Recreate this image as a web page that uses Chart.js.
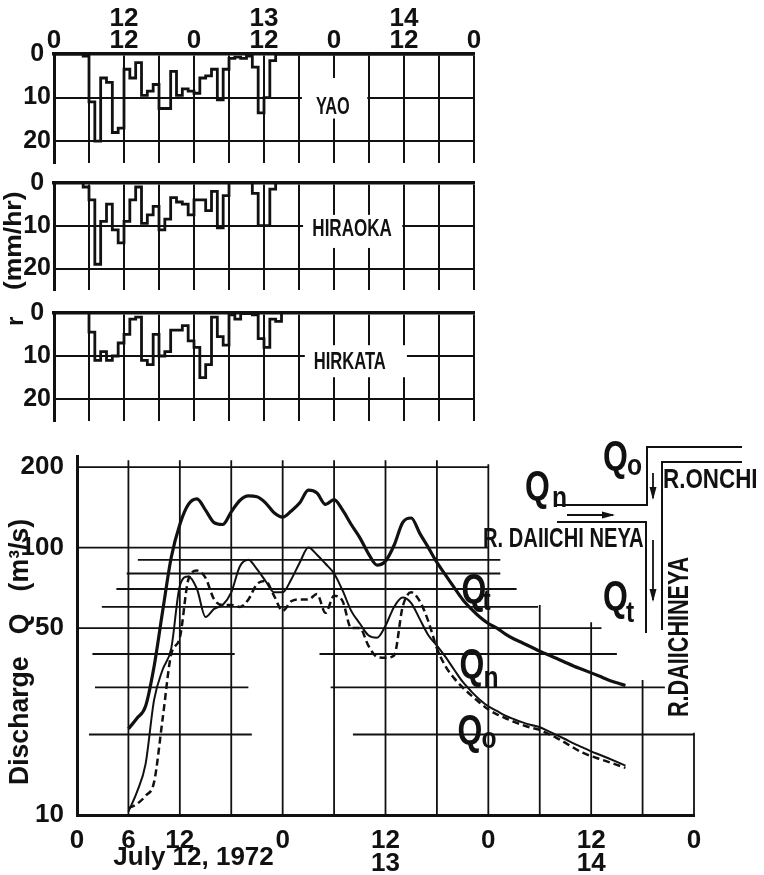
<!DOCTYPE html>
<html>
<head>
<meta charset="utf-8">
<script src="https://cdn.jsdelivr.net/npm/chart.js@4.4.1/dist/chart.umd.min.js"></script>
<style>
  html, body { margin: 0; padding: 0; background: #fff; }
  #page { position: relative; width: 764px; height: 875px; overflow: hidden; }
  #page canvas { position: absolute; left: 0; top: 0; }
</style>
</head>
<body>
<div id="page">
  <canvas id="yao" width="764" height="875"></canvas>
  <canvas id="hiraoka" width="764" height="875"></canvas>
  <canvas id="hirakata" width="764" height="875"></canvas>
  <canvas id="discharge" width="764" height="875"></canvas>
</div>
<script>
const FONT = "'Liberation Sans', Arial, sans-serif";
const INK = '#111';

// hourly rainfall (mm/hr), hour 0 = July 12 0:00
const rainHours = [0,1,2,3,4,5,6,7,8,9,10,11,12,13,14,15,16,17,18,19,20,21,22,23,24,25,26,27,28,29,30,31,32,33,34,35,36,37,38,39];
const yaoRain = [0,0,0,0,0,0.5,11,20,5.5,6.5,18,17,3.5,5.5,2,9.5,8.5,7,12.5,12.5,4,9.5,8,8.5,9,5.5,5,3.5,10.5,3.5,1,0.7,1,0.5,3,13.5,10,1.5,0,0];
const hiraokaRain = [0,0,0,0,0,1,4,19,9,5,11,14,9,4,1,9.5,7.5,5.5,11,8.5,3.5,4.5,5,7.5,4,4,6.5,2,10.5,3,0,0,0,0,2.5,10,10,1.5,0,0];
const hirakataRain = [0,0,0,0,0,0,4.5,11,9,11,10,7,5,1.5,1,11,12,5,10,9,4,4,3,6.5,8,15,12,1,5.5,7.5,0.5,1.5,0.2,0.2,0.5,6,8,1.5,2,0];

// discharge (m3/s)
const qHours = [6,7,8,9,10,11,12,13,14,15,16,17,18,19,20,21,22,23,24,25,26,27,28,29,30,31,32,33,34,35,36,37,38,39,40,41,42,43,44,45,46,47,48,49,50,51,52,53,54,55,56,57,58,59,60,61,62,63,64];
const qTotal = [21,23,25.5,36,58,92,122,145,152,138,124,122,136,150,156,155,147,135,130,137,147,164,160,145,151,138,122,109,95,86,89,102,124,129,113,100,88,79,71,64,59,55,52,50,47.5,45.5,44,42.5,41,39.7,38.5,37.2,36,35,34,33,32,31.2,30.5];
const qDaiichi = [10.3,12.2,15.5,27,35,42,72,78,70,55,59,61,68,85,90,83,75,68,68,76,88,100,94,87,80,69,58,52,47,46,51,60,65,62,54,47,43,39,35,31.5,29,27,25.5,24.5,23.5,22.8,22.2,21.7,21.3,20.6,19.9,19.2,18.5,17.9,17.3,16.8,16.3,15.8,15.3];
const qOnchi = [10.6,11,11.8,13.3,23,40,46,76,82,77,64,61,61,60,64,73,75,66,58,63,64,64,67,57,66,63,50,50,43,39,38.7,39.5,60,68,63,53,42,36,32.5,30,28,26.3,24.8,23.8,23,22.3,21.7,21.2,20.8,20.1,19.4,18.6,17.8,17.1,16.6,16.2,15.8,15.4,15];

// ticks
const gridHours = [0,6,12,18,24,30,36,42,48,54,60,66,72];
const hourLabels = {0:'0', 12:'12', 24:'0', 36:'12', 48:'0', 60:'12', 72:'0'};
const dayLabels = {12:'12', 36:'13', 60:'14'};
const qHourLabels = {0:'0', 6:'6', 12:'12', 24:'0', 36:'12', 48:'0', 60:'12', 72:'0'};
const qDayLabels = {36:'13', 60:'14'};
const rainTicks = [0, 10, 20];
const qTicks = [10, 50, 100, 200];

// broken grid of the discharge panel: [value, fromHour, toHour] and [hour, topValue]
const qGridRows = [[200,0,48],[100,0,48],[90,7.1,49.4],[80,5.8,49.4],[70,4.6,51.3],[60,2.9,53.8],[50,0,61.2],
  [40,1.8,18.4],[40,28.3,63],[30,2.1,20],[30,29.6,68.6],[20,1.4,20.4],[20,32.2,72]];
const qGridCols = [[6,212],[12,212],[18,212],[24,212],[30,212],[36,212],[42,212],[48,205],[54,61],[60,52.6],[66,32],[72,20.3]];

function text(ctx, str, x, y, size, o = {}) {
  ctx.save();
  ctx.font = 'bold ' + size + 'px ' + FONT;
  ctx.fillStyle = INK;
  ctx.textAlign = o.align || 'left';
  ctx.textBaseline = o.baseline || 'alphabetic';
  ctx.translate(x, y);
  if (o.rotate) ctx.rotate(o.rotate);
  ctx.scale(o.sx || 1, 1);
  ctx.fillText(str, 0, 0);
  ctx.restore();
}

function qLabel(ctx, x, y, sub, dx, dy) {
  text(ctx, 'Q', x, y, 42, {sx: 0.76});
  text(ctx, sub, x + dx, y + dy, 29, {sx: 0.85});
}

function arrow(ctx, x1, y1, x2, y2) {
  const a = Math.atan2(y2 - y1, x2 - x1);
  ctx.beginPath();
  ctx.moveTo(x1, y1);
  ctx.lineTo(x2, y2);
  ctx.stroke();
  ctx.beginPath();
  ctx.moveTo(x2 + 2 * Math.cos(a), y2 + 2 * Math.sin(a));
  ctx.lineTo(x2 - 11 * Math.cos(a) + 3.5 * Math.sin(a), y2 - 11 * Math.sin(a) - 3.5 * Math.cos(a));
  ctx.lineTo(x2 - 11 * Math.cos(a) - 3.5 * Math.sin(a), y2 - 11 * Math.sin(a) + 3.5 * Math.cos(a));
  ctx.closePath();
  ctx.fill();
}

const tickFont = {family: FONT, size: 26, weight: 'bold'};

const stations = [
  {id: 'yao', name: 'YAO', values: yaoRain, top: 0, bottom: 712, showHours: true,
   at: [47.8, 12.2], gap: [42.5, 53.7, 5.5, 14.8], sx: 0.68},
  {id: 'hiraoka', name: 'HIRAOKA', values: hiraokaRain, top: 182.7, bottom: 585, showHours: false,
   at: [51.1, 10.8], gap: [42.7, 59.7, 7.5, 15.2], sx: 0.71},
  {id: 'hirakata', name: 'HIRKATA', values: hirakataRain, top: 312.7, bottom: 454, showHours: false,
   at: [50.7, 11.5], gap: [43, 60.5, 7.5, 14.9], sx: 0.69}
];

stations.forEach(st => {
  const stationLabel = {
    id: 'station',
    afterDraw(chart) {
      const {ctx, scales: {x, y}} = chart;
      const [h1, h2, v1, v2] = st.gap;
      ctx.save();
      ctx.fillStyle = '#fff';
      ctx.fillRect(x.getPixelForValue(h1), y.getPixelForValue(v1),
        x.getPixelForValue(h2) - x.getPixelForValue(h1), y.getPixelForValue(v2) - y.getPixelForValue(v1));
      ctx.restore();
      text(ctx, st.name, x.getPixelForValue(st.at[0]), y.getPixelForValue(st.at[1]), 24,
        {align: 'center', baseline: 'middle', sx: st.sx});
    }
  };

  new Chart(document.getElementById(st.id), {
    type: 'line',
    data: {
      datasets: [{
        data: rainHours.map((h, i) => ({x: h, y: st.values[i]})).concat([{x: 72, y: 0}]),
        stepped: true,
        borderColor: INK,
        borderWidth: 2.8,
        pointRadius: 0,
        fill: false
      }]
    },
    options: {
      responsive: false,
      animation: false,
      events: [],
      devicePixelRatio: 1,
      layout: {padding: {left: 0, right: 290, top: st.top, bottom: st.bottom}},
      plugins: {legend: {display: false}, tooltip: {enabled: false}},
      scales: {
        x: {
          type: 'linear', position: 'top', min: 0, max: 72,
          afterBuildTicks: s => { s.ticks = gridHours.map(v => ({value: v})); },
          afterFit: s => { s.height = st.showHours ? 54 : 0; },
          grid: {color: INK, lineWidth: 2, drawTicks: false},
          border: {color: INK, width: 3.5},
          ticks: {
            display: st.showHours, autoSkip: false, maxRotation: 0, padding: 2, color: INK,
            font: {...tickFont, lineHeight: 0.85},
            callback: v => dayLabels[v] ? [dayLabels[v], hourLabels[v]] : (hourLabels[v] || '')
          }
        },
        y: {
          type: 'linear', reverse: true, min: 0, max: 25,
          afterBuildTicks: s => { s.ticks = rainTicks.map(v => ({value: v})); },
          afterFit: s => { s.width = 54; },
          grid: {color: INK, lineWidth: 2, drawTicks: false},
          border: {color: INK, width: 3},
          ticks: {crossAlign: 'center', padding: 3, color: INK, font: {...tickFont, size: 25}, callback: v => String(v)}
        }
      }
    },
    plugins: [stationLabel]
  });
});

const qGrid = {
  id: 'qgrid',
  beforeDatasetsDraw(chart) {
    const {ctx, scales: {x, y}} = chart;
    ctx.save();
    ctx.strokeStyle = INK;
    ctx.lineWidth = 1.8;
    ctx.beginPath();
    qGridRows.forEach(([v, h1, h2]) => {
      const py = y.getPixelForValue(v);
      ctx.moveTo(x.getPixelForValue(h1), py);
      ctx.lineTo(x.getPixelForValue(h2), py);
    });
    qGridCols.forEach(([h, v]) => {
      const px = x.getPixelForValue(h);
      ctx.moveTo(px, y.getPixelForValue(v));
      ctx.lineTo(px, y.bottom);
    });
    ctx.stroke();
    ctx.restore();
  }
};

const notes = {
  id: 'notes',
  afterDraw(chart) {
    const {ctx, scales: {x, y}} = chart;
    // curve labels
    qLabel(ctx, x.getPixelForValue(44.87), y.getPixelForValue(62), 't', 21, 7);
    qLabel(ctx, x.getPixelForValue(44.64), y.getPixelForValue(32.5), 'n', 24, 9);
    qLabel(ctx, x.getPixelForValue(44.41), y.getPixelForValue(18.4), 'o', 24, 4);
    // date under the first day
    text(ctx, 'July 12, 1972', x.getPixelForValue(13.6), x.top + 43, 26, {align: 'center', baseline: 'middle'});
    // axis titles
    text(ctx, 'Discharge   Q   (m\u00b3/s)', 20, 652, 28, {align: 'center', baseline: 'middle', rotate: -Math.PI / 2, sx: 0.95});
    text(ctx, '(mm/hr)', 21, 290, 23, {rotate: -Math.PI / 2, sx: 1.15});
    text(ctx, 'r', 23, 326, 24, {rotate: -Math.PI / 2});

    // river junction sketch
    ctx.save();
    ctx.strokeStyle = INK;
    ctx.fillStyle = INK;
    ctx.lineWidth = 2;
    ctx.beginPath();
    ctx.moveTo(557, 505); ctx.lineTo(647, 505); ctx.lineTo(647, 447); ctx.lineTo(742, 447);
    ctx.moveTo(742, 462); ctx.lineTo(662, 462); ctx.lineTo(662, 630);
    ctx.moveTo(557, 522); ctx.lineTo(646, 522); ctx.lineTo(646, 633);
    ctx.stroke();
    ctx.lineWidth = 1.8;
    arrow(ctx, 567, 515, 613, 515);
    arrow(ctx, 653, 473, 653, 498);
    arrow(ctx, 653, 540, 653, 600);
    ctx.restore();
    qLabel(ctx, 603, 470, 'o', 24, 5);
    qLabel(ctx, 525, 500, 'n', 27, 7);
    qLabel(ctx, 603, 610, 't', 23, 12);
    text(ctx, 'R.ONCHI', 663, 488, 28, {sx: 0.8});
    text(ctx, 'R. DAIICHI NEYA', 483, 547, 28, {sx: 0.72});
    text(ctx, 'R.DAIICHINEYA', 688, 717, 30, {rotate: -Math.PI / 2, sx: 0.72});
  }
};

new Chart(document.getElementById('discharge'), {
  type: 'line',
  data: {
    datasets: [
      {label: 'Qt', data: qHours.map((h, i) => ({x: h, y: qTotal[i]})),
       borderColor: INK, borderWidth: 3.2, pointRadius: 0, cubicInterpolationMode: 'monotone'},
      {label: 'Qn', data: qHours.map((h, i) => ({x: h, y: qDaiichi[i]})),
       borderColor: INK, borderWidth: 2, pointRadius: 0, cubicInterpolationMode: 'monotone'},
      {label: 'Qo', data: qHours.map((h, i) => ({x: h, y: qOnchi[i]})),
       borderColor: INK, borderWidth: 2.5, borderDash: [7, 4], pointRadius: 0, cubicInterpolationMode: 'monotone'}
    ]
  },
  options: {
    responsive: false,
    animation: false,
    events: [],
    devicePixelRatio: 1,
    layout: {padding: {left: 0, right: 70, top: 456, bottom: 0}},
    plugins: {legend: {display: false}, tooltip: {enabled: false}},
    scales: {
      x: {
        type: 'linear', min: 0, max: 72,
        afterBuildTicks: s => { s.ticks = gridHours.map(v => ({value: v})); },
        afterFit: s => { s.height = 60; },
        grid: {display: false},
        border: {color: INK, width: 3},
        ticks: {
          autoSkip: false, maxRotation: 0, padding: 6, color: INK,
          font: {...tickFont, lineHeight: 0.9},
          callback: v => qDayLabels[v] ? [qHourLabels[v], qDayLabels[v]] : (qHourLabels[v] || '')
        }
      },
      y: {
        type: 'logarithmic', min: 10, max: 220,
        afterBuildTicks: s => { s.ticks = qTicks.map(v => ({value: v})); },
        afterFit: s => { s.width = 77; },
        grid: {display: false},
        border: {color: INK, width: 3},
        ticks: {padding: 5, color: INK, font: tickFont, callback: v => String(v)}
      }
    }
  },
  plugins: [qGrid, notes]
});
</script>
</body>
</html>
